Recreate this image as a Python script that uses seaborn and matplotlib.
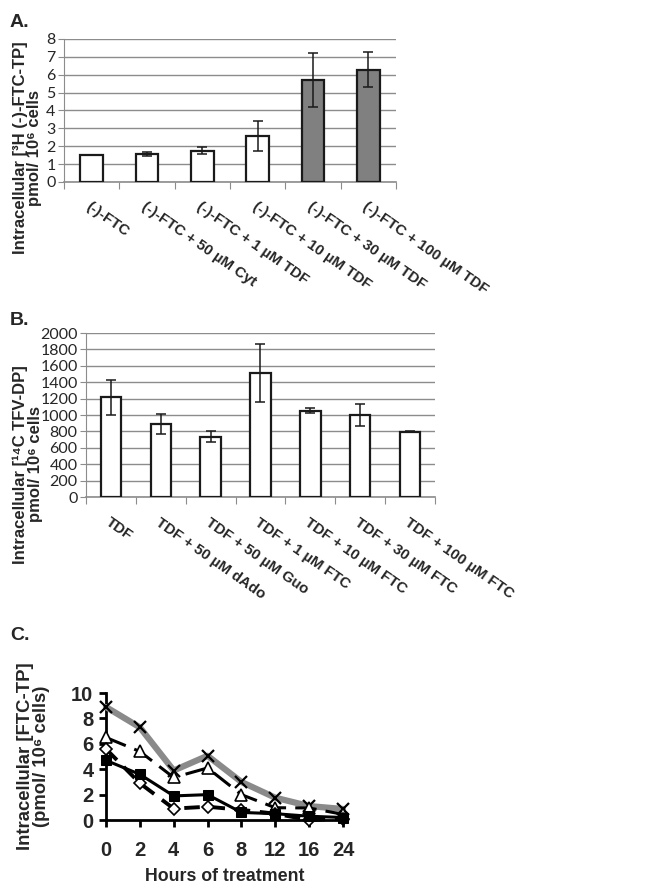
import matplotlib
matplotlib.use("Agg")
import matplotlib.pyplot as plt
import seaborn as sns
import pandas as pd
import numpy as np

# panel A data
a_labels = ['(-)-FTC', '(-)-FTC + 50 µM Cyt', '(-)-FTC + 1 µM TDF', '(-)-FTC + 10 µM TDF',
            '(-)-FTC + 30 µM TDF', '(-)-FTC + 100 µM TDF']
a_values = [1.5, 1.55, 1.74, 2.57, 5.71, 6.28]
a_errors = [0.0, 0.1, 0.2, 0.82, 1.52, 0.97]
a_colors = ['white', 'white', 'white', 'white', '#808080', '#808080']

# panel B data
b_labels = ['TDF', 'TDF + 50 µM dAdo', 'TDF + 50 µM Guo', 'TDF + 1 µM FTC',
            'TDF + 10 µM FTC', 'TDF + 30 µM FTC', 'TDF + 100 µM FTC']
b_values = [1216, 890, 735, 1510, 1053, 1000, 796]
b_errors = [215, 125, 68, 355, 33, 130, 8]

# panel C data
c_hours = ['0', '2', '4', '6', '8', '12', '16', '24']
c_cross = [8.9, 7.3, 3.9, 5.06, 3.0, 1.76, 1.1, 0.87]
c_triangle = [6.5, 5.4, 3.35, 4.1, 2.0, 0.97, 0.95, 0.45]
c_diamond = [5.6, 2.9, 0.9, 1.05, 0.8, 0.5, 0.0, 0.1]
c_square = [4.7, 3.6, 1.9, 2.0, 0.6, 0.5, 0.3, 0.2]

sns.set_style('white')
plt.rcParams['font.family'] = ['Liberation Sans', 'DejaVu Sans']

fig = plt.figure(figsize=(6.55, 8.85), dpi=100)


def excel_bars(ax, labels, values, errors, colors, yticks, ylabel, label_xy):
    df = pd.DataFrame({'cond': labels, 'val': values})
    sns.barplot(data=df, x='cond', y='val', hue='cond', palette=colors, legend=False,
                width=0.41, edgecolor='#1a1a1a', linewidth=1.6, ax=ax, zorder=3)
    ax.errorbar(np.arange(len(values)), values, yerr=errors, fmt='none', ecolor='#1a1a1a',
                elinewidth=1.1, capsize=3.5, capthick=1.1, zorder=4)
    n = len(values)
    ax.set_xlim(-0.5, n - 0.5)
    ax.set_ylim(yticks[0], yticks[-1])
    ax.set_yticks(yticks)
    ax.set_yticklabels([str(t) for t in yticks], fontsize=11.5, family='Lato')
    ax.yaxis.grid(True, color='#8c8c8c', linewidth=1.0, zorder=0)
    ax.set_axisbelow(True)
    ax.set_xticks(np.arange(-0.5, n, 1.0))
    ax.set_xticklabels([])
    ax.set_xticks(np.arange(n), minor=True)
    ax.set_xticklabels(labels, minor=True, rotation=-35, ha='left', va='top',
                       rotation_mode='anchor', fontsize=10.8, fontweight='bold')
    ax.tick_params(axis='x', which='major', length=5, color='#8c8c8c', direction='out', bottom=True)
    ax.tick_params(axis='x', which='minor', length=0, pad=13)
    ax.tick_params(axis='y', length=4, color='#8c8c8c', left=True, pad=2)
    for side in ['top', 'right']:
        ax.spines[side].set_visible(False)
    ax.spines['left'].set_color('#8c8c8c')
    ax.spines['bottom'].set_color('#8c8c8c')
    ax.spines['bottom'].set_linewidth(1.2)
    ax.set_xlabel('')
    ax.set_ylabel(ylabel, fontsize=12, fontweight='bold', linespacing=0.95)
    ax.yaxis.set_label_coords(*label_xy)


ax_a = fig.add_axes([0.0977, 0.7944, 0.507, 0.1616])
excel_bars(ax_a, a_labels, a_values, a_errors, a_colors, [0, 1, 2, 3, 4, 5, 6, 7, 8],
           'Intracellular [³H (-)-FTC-TP]\npmol/ 10⁶ cells', (-0.066, 0.24))

ax_b = fig.add_axes([0.1313, 0.4384, 0.5328, 0.1853])
excel_bars(ax_b, b_labels, b_values, b_errors, ['white'] * len(b_labels),
           list(range(0, 2001, 200)),
           'Intracellular [¹⁴C TFV-DP]\npmol/ 10⁶ cells', (-0.124, 0.2))

# panel C
ax_c = fig.add_axes([0.1618, 0.0734, 0.3618, 0.1435])
pos = np.arange(len(c_hours))
sns.lineplot(x=pos, y=c_cross, ax=ax_c, color='#8a8a8a', linewidth=4.5, marker='x',
             markersize=8, markeredgecolor='black', markeredgewidth=1.6, clip_on=False, zorder=3)
sns.lineplot(x=pos, y=c_triangle, ax=ax_c, color='black', linewidth=2.2, dashes=(7, 3),
             marker='^', markersize=8, markerfacecolor='white', markeredgecolor='black',
             markeredgewidth=1.2, clip_on=False, zorder=4)
sns.lineplot(x=pos, y=c_diamond, ax=ax_c, color='black', linewidth=2.8, dashes=(4, 2.5),
             marker='D', markersize=6, markerfacecolor='white', markeredgecolor='black',
             markeredgewidth=1.2, clip_on=False, zorder=5)
sns.lineplot(x=pos, y=c_square, ax=ax_c, color='black', linewidth=2.2, marker='s',
             markersize=7, markerfacecolor='black', markeredgecolor='black',
             clip_on=False, zorder=6)
ax_c.set_xlim(0, len(c_hours) - 1)
ax_c.set_ylim(0, 10)
ax_c.set_xticks(pos)
ax_c.set_xticklabels(c_hours, fontsize=14.5, fontweight='bold')
ax_c.set_yticks([0, 2, 4, 6, 8, 10])
ax_c.set_yticklabels(['0', '2', '4', '6', '8', '10'], fontsize=14.5, fontweight='bold')
ax_c.tick_params(axis='x', direction='out', length=5, width=2, color='black',
                 bottom=True, pad=10)
ax_c.tick_params(axis='y', direction='out', length=5, width=2, color='black',
                 left=True, pad=4)
for side in ['top', 'right']:
    ax_c.spines[side].set_visible(False)
for side in ['left', 'bottom']:
    ax_c.spines[side].set_color('black')
    ax_c.spines[side].set_linewidth(2)
ax_c.set_xlabel('Hours of treatment', fontsize=12.8, fontweight='bold', labelpad=6)
ax_c.set_ylabel('Intracellular [FTC-TP]\n(pmol/ 10⁶ cells)', fontsize=13.3,
                fontweight='bold', linespacing=0.95)
ax_c.yaxis.set_label_coords(-0.236, 0.5)

fig.text(0.015, 0.975, 'A.', fontsize=14, fontweight='bold', va='center')
fig.text(0.015, 0.638, 'B.', fontsize=14, fontweight='bold', va='center')
fig.text(0.015, 0.282, 'C.', fontsize=14, fontweight='bold', va='center')

fig.savefig('out.png', dpi=100)
